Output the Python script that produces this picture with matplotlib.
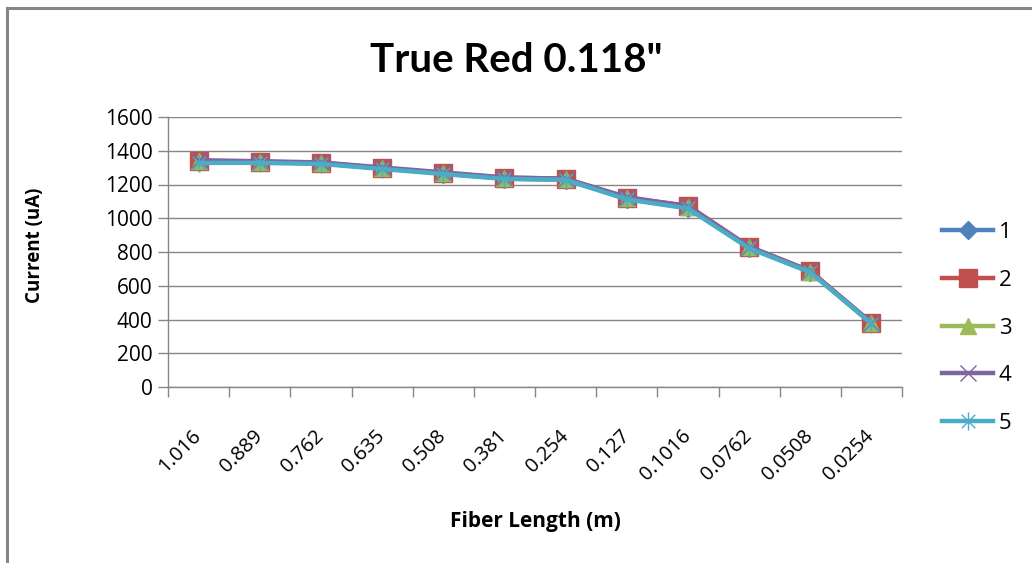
import numpy as np
import matplotlib.pyplot as plt
from matplotlib.patches import Rectangle
from matplotlib.path import Path
from matplotlib import font_manager

# fiber length categories (m) and measured current (uA) for five runs
lengths = ['1.016', '0.889', '0.762', '0.635', '0.508', '0.381',
           '0.254', '0.127', '0.1016', '0.0762', '0.0508', '0.0254']
run1 = [1335, 1332, 1325, 1295, 1265, 1235, 1228, 1115, 1062, 825, 682, 378]
run2 = [1340, 1335, 1328, 1298, 1268, 1240, 1235, 1120, 1075, 832, 688, 380]
run3 = [1338, 1333, 1325, 1296, 1266, 1238, 1230, 1118, 1066, 828, 684, 378]
run4 = [1344, 1338, 1331, 1301, 1272, 1242, 1234, 1126, 1071, 831, 686, 381]
run5 = [1328, 1328, 1322, 1292, 1262, 1233, 1228, 1112, 1058, 822, 680, 376]

names = set(f.name for f in font_manager.fontManager.ttflist)
title_font = 'Liberation Sans Narrow' if 'Liberation Sans Narrow' in names else 'Lato'
plt.rcParams['font.family'] = ['Open Sans', 'DejaVu Sans']

# asterisk made of strokes: x plus a vertical bar
d = 0.75
star = Path([(0, -1), (0, 1), (-d, -d), (d, d), (-d, d), (d, -d)],
            [Path.MOVETO, Path.LINETO] * 3)

fig = plt.figure(figsize=(10.32, 5.63), dpi=100)
ax = fig.add_axes([168 / 1032, 1 - 387 / 563, (902 - 168) / 1032, (387 - 117) / 563])

x = np.arange(len(lengths))
series = [
    ('1', run1, '#4F81BD', 'D', 9, 1.0),
    ('2', run2, '#C0504D', 's', 13, 1.0),
    ('3', run3, '#9BBB59', '^', 12, 1.0),
    ('4', run4, '#8064A2', 'x', 12, 1.0),
    ('5', run5, '#4BACC6', star, 13, 1.0),
]
for name, vals, col, mk, ms, mew in series:
    ax.plot(x, vals, color=col, lw=3.2, marker=mk, ms=ms, mew=mew,
            mec=col, mfc=col, label=name, solid_joinstyle='round')

ax.set_xlim(-0.5, len(lengths) - 0.5)
ax.set_ylim(0, 1600)
ax.set_yticks(np.arange(0, 1601, 200))
ax.grid(axis='y', color='#868686', lw=1)
ax.set_axisbelow(True)

ax.set_xticks(x)
ax.set_xticklabels(lengths, rotation=45, ha='right', va='center',
                   rotation_mode='anchor', fontsize=14.5)
ax.set_xticks(np.arange(-0.5, len(lengths)), minor=True)
ax.tick_params(axis='x', which='major', length=0, pad=33)
ax.tick_params(axis='x', which='minor', length=7, color='#868686', width=1)
ax.tick_params(axis='y', length=7, color='#868686', width=1, labelsize=15, pad=4)

for s in ['top', 'right']:
    ax.spines[s].set_visible(False)
for s in ['left', 'bottom']:
    ax.spines[s].set_color('#868686')
    ax.spines[s].set_linewidth(1)

fig.text(35 / 1032, 1 - 245 / 563, 'Current (uA)', rotation=90, ha='center',
         va='center', fontsize=13.5, fontweight='bold')
fig.text(535 / 1032, 1 - 522 / 563, 'Fiber Length (m)', ha='center',
         va='center', fontsize=15, fontweight='bold')

fig.text(0.5, 1 - 60 / 563, 'True Red 0.118"', ha='center', va='center',
         fontsize=29, fontweight='bold', family=title_font)

leg = fig.legend(loc='center left', bbox_to_anchor=(922 / 1032, 1 - 328 / 563),
                 frameon=False, fontsize=16, handlelength=2.3, labelspacing=1.2,
                 handletextpad=0.25)

# chart border (left and top edges visible)
fig.patches.append(Rectangle((7 / 1032, -0.1), 1.1, 1.1 - 8 / 563,
                             transform=fig.transFigure, fill=False,
                             edgecolor='#868686', lw=2.2))

fig.savefig('out.png', dpi=100)
